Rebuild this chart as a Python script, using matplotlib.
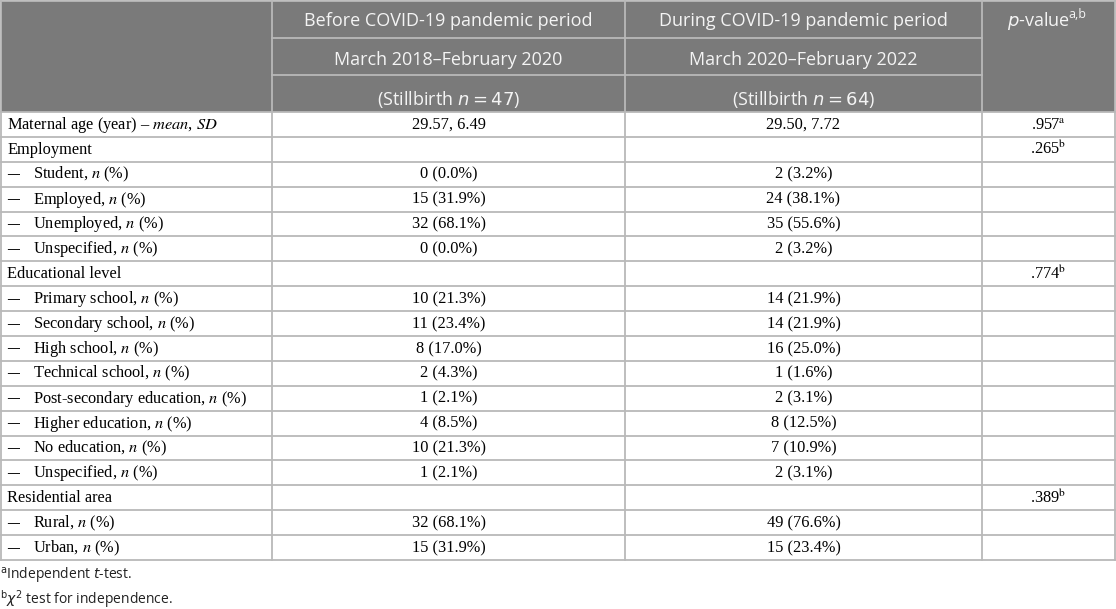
import matplotlib
matplotlib.use("Agg")
import matplotlib.pyplot as plt

# ---- contenuto della tabella
etichette = [
    "Maternal age (year) – $\\mathit{mean}$, $\\mathit{SD}$",
    "Employment",
    "Student, $n$ (%)",
    "Employed, $n$ (%)",
    "Unemployed, $n$ (%)",
    "Unspecified, $n$ (%)",
    "Educational level",
    "Primary school, $n$ (%)",
    "Secondary school, $n$ (%)",
    "High school, $n$ (%)",
    "Technical school, $n$ (%)",
    "Post-secondary education, $n$ (%)",
    "Higher education, $n$ (%)",
    "No education, $n$ (%)",
    "Unspecified, $n$ (%)",
    "Residential area",
    "Rural, $n$ (%)",
    "Urban, $n$ (%)",
]
sottovoce = [False, False, True, True, True, True, False, True, True, True,
             True, True, True, True, True, False, True, True]
prima = ["29.57, 6.49", "", "0 (0.0%)", "15 (31.9%)", "32 (68.1%)", "0 (0.0%)",
         "", "10 (21.3%)", "11 (23.4%)", "8 (17.0%)", "2 (4.3%)", "1 (2.1%)",
         "4 (8.5%)", "10 (21.3%)", "1 (2.1%)", "", "32 (68.1%)", "15 (31.9%)"]
durante = ["29.50, 7.72", "", "2 (3.2%)", "24 (38.1%)", "35 (55.6%)", "2 (3.2%)",
           "", "14 (21.9%)", "14 (21.9%)", "16 (25.0%)", "1 (1.6%)", "2 (3.1%)",
           "8 (12.5%)", "7 (10.9%)", "2 (3.1%)", "", "49 (76.6%)", "15 (23.4%)"]
pvalori = [".957$^{\\mathrm{a}}$", ".265$^{\\mathrm{b}}$", "", "", "", "", ".774$^{\\mathrm{b}}$",
           "", "", "", "", "", "", "", "", ".389$^{\\mathrm{b}}$", "", ""]

intestazione_prima = ["Before COVID-19 pandemic period", "March 2018–February 2020",
                      "(Stillbirth $n = 47$)"]
intestazione_durante = ["During COVID-19 pandemic period", "March 2020–February 2022",
                        "(Stillbirth $n = 64$)"]
intestazione_p = "$p$-value"
apice_p = "a,b"
note = ["$^{\\mathrm{a}}$Independent $t$-test.",
        "$^{\\mathrm{b}}\\chi^{2}$ test for independence."]

# ---- geometria (pixel)
W, H = 1116, 609
xcol = [1, 272, 625, 982, 1115]
yh = [0.5, 38, 75, 112]
y_fondo = 560
grigio = "#7a7a7a"
linea = "#b9b9b9"

fig = plt.figure(figsize=(W / 100, H / 100), dpi=100)
ax = fig.add_axes([0, 0, 1, 1])
ax.set_xlim(0, W)
ax.set_ylim(H, 0)
ax.axis("off")

# sfondo intestazione
ax.fill_between([xcol[0], xcol[-1]], yh[0], yh[-1], color=grigio, lw=0)

n = len(etichette)
h_riga = (y_fondo - yh[-1]) / n
y_righe = [yh[-1] + i * h_riga for i in range(n + 1)]

# linee
for y in y_righe:
    ax.plot([xcol[0], xcol[-1]], [y, y], color=linea, lw=1.3)
ax.plot([xcol[0], xcol[-1]], [yh[0], yh[0]], color=linea, lw=1.3)
for y in yh[1:3]:
    ax.plot([xcol[1], xcol[3]], [y, y], color=linea, lw=1.3)
for x in xcol:
    ax.plot([x, x], [yh[0], y_fondo], color=linea, lw=1.3)

# testo intestazione
sans = "Open Sans"
fs_int = 13
y_int = [21, 60, 99]
c1 = (xcol[1] + xcol[2]) / 2
c2 = (xcol[2] + xcol[3]) / 2
c3 = (xcol[3] + xcol[4]) / 2
for k in range(3):
    ax.text(c1, y_int[k], intestazione_prima[k], ha="center", va="center",
            color="#f4f4f4", fontsize=fs_int, family=sans, math_fontfamily="dejavusans")
    ax.text(c2, y_int[k], intestazione_durante[k], ha="center", va="center",
            color="#f4f4f4", fontsize=fs_int, family=sans, math_fontfamily="dejavusans")
tp = ax.text(c3 - 10, y_int[0], intestazione_p, ha="center", va="center",
             color="#f4f4f4", fontsize=fs_int, family=sans, math_fontfamily="dejavusans")
renderer = fig.canvas.get_renderer()
bb = tp.get_window_extent(renderer)
ax.text(bb.x1 - 1.5, y_int[0] - 6, apice_p, ha="left", va="center",
        color="#f4f4f4", fontsize=9, family=sans)

# corpo
serif = "Liberation Serif"
fs = 11.8
for i in range(n):
    yc = (y_righe[i] + y_righe[i + 1]) / 2 + 0.5
    if sottovoce[i]:
        ax.text(7.5, yc, "–", ha="left", va="center", fontsize=17, family=serif)
        ax.text(33, yc, etichette[i], ha="left", va="center", fontsize=fs,
                family=serif, math_fontfamily="stix")
    else:
        ax.text(7, yc, etichette[i], ha="left", va="center", fontsize=fs,
                family=serif, math_fontfamily="stix")
    ax.text(c1, yc, prima[i], ha="center", va="center", fontsize=fs, family=serif)
    ax.text(c2, yc, durante[i], ha="center", va="center", fontsize=fs, family=serif)
    if pvalori[i]:
        ax.text(c3, yc, pvalori[i], ha="center", va="center", fontsize=fs,
                family=serif, math_fontfamily="stix")

# note
ax.text(0, 576, note[0], ha="left", va="center", fontsize=10, family=sans,
        color="#222222", math_fontfamily="dejavusans")
ax.text(0, 599, note[1], ha="left", va="center", fontsize=10, family=sans,
        color="#222222", math_fontfamily="dejavusans")

fig.savefig("out.png", dpi=100)
